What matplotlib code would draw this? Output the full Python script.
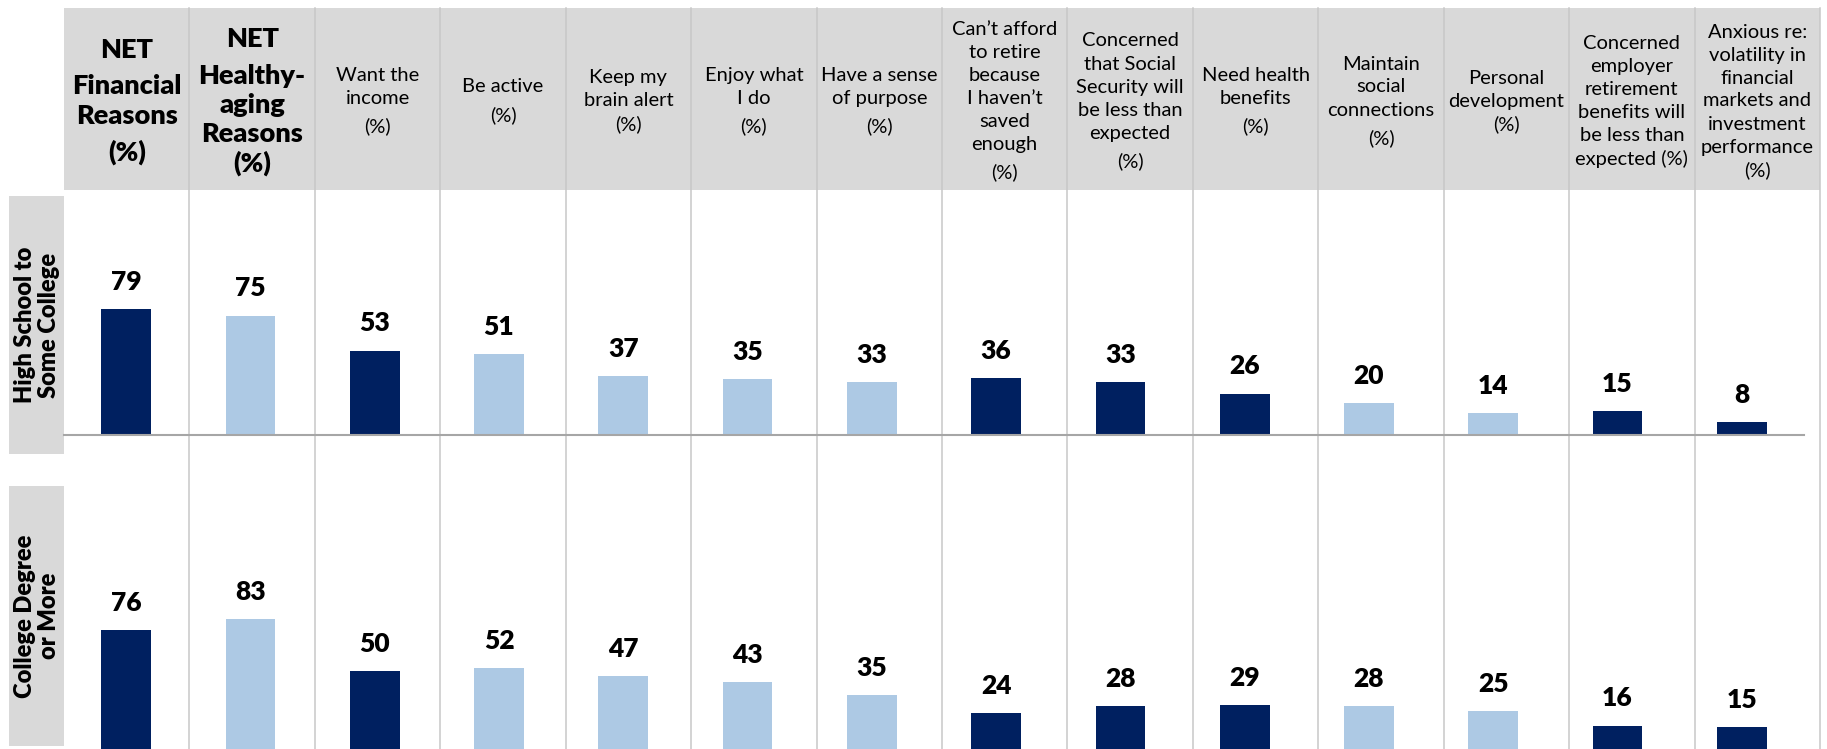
import numpy as np
import matplotlib.pyplot as plt
from matplotlib.patches import Rectangle

plt.rcParams['font.family'] = ['Lato', 'DejaVu Sans']

# Column headers ("\n\n" marks a paragraph break)
categories = [
    "NET\n\nFinancial\nReasons\n\n(%)",
    "NET\n\nHealthy-\naging\nReasons\n(%)",
    "Want the\nincome\n\n(%)",
    "Be active\n\n(%)",
    "Keep my\nbrain alert\n(%)",
    "Enjoy what\nI do\n\n(%)",
    "Have a sense\nof purpose\n\n(%)",
    "Can’t afford\nto retire\nbecause\nI haven’t\nsaved\nenough\n\n(%)",
    "Concerned\nthat Social\nSecurity will\nbe less than\nexpected\n\n(%)",
    "Need health\nbenefits\n\n(%)",
    "Maintain\nsocial\nconnections\n\n(%)",
    "Personal\ndevelopment\n(%)",
    "Concerned\nemployer\nretirement\nbenefits will\nbe less than\nexpected (%)",
    "Anxious re:\nvolatility in\nfinancial\nmarkets and\ninvestment\nperformance\n(%)",
]
net_header = [True, True] + [False] * 12
financial = [True, False, True, False, False, False, False,
             True, True, True, False, False, True, True]

groups = ["High School to\nSome College", "College Degree\nor More"]
hs_values = [79, 75, 53, 51, 37, 35, 33, 36, 33, 26, 20, 14, 15, 8]
college_values = [76, 83, 50, 52, 47, 43, 35, 24, 28, 29, 28, 25, 16, 15]

DARK = '#002060'
LIGHT = '#adc9e4'
GRAY = '#d9d9d9'
BOLD = 'heavy'

W, H = 1827, 749
fig = plt.figure(figsize=(W / 100, H / 100), dpi=100)

# background layer in pixel coordinates
bg = fig.add_axes([0, 0, 1, 1])
bg.set_xlim(0, W)
bg.set_ylim(H, 0)
bg.axis('off')

left, right = 64, 1820
col_w = (right - left) / len(categories)
bg.add_patch(Rectangle((left, 8), right - left, 182, color=GRAY, lw=0))
for k in range(1, len(categories) + 1):
    x = left + k * col_w
    bg.plot([x, x], [8, H], color='#c8c8c8', lw=1.1)


def draw_header(xc, label, bold):
    size = 19.5 if bold else 14.5
    step = 29 if bold else 23
    gap = 37 if bold else 28
    lines = []
    y = 0
    for i, para in enumerate(label.split('\n\n')):
        if i:
            y += gap - step
        for line in para.split('\n'):
            lines.append((line, y))
            y += step
    y0 = 101 - (y - step) / 2
    for line, yy in lines:
        bg.text(xc, y0 + yy, line, ha='center', va='center', fontsize=size,
                weight=BOLD if bold else 'normal')


for k, (lab, b) in enumerate(zip(categories, net_header)):
    draw_header(left + (k + 0.5) * col_w, lab, b)

# row labels
for (top, bottom), g in zip([(196, 454), (486, 746)], groups):
    bg.add_patch(Rectangle((9, top), 55, bottom - top, color=GRAY, lw=0))
    bg.text(37, (top + bottom) / 2, g, rotation=90, ha='center', va='center',
            fontsize=17, weight=BOLD, linespacing=1.1, multialignment='center')


def bar_row(values, baseline_px):
    ax = fig.add_axes([64 / W, (H - baseline_px) / H, 1740 / W, 239 / H])
    x = np.arange(len(values))
    colors = [DARK if f else LIGHT for f in financial]
    ax.bar(x, values, width=0.4, color=colors)
    ax.set_xlim(-0.5, len(values) - 0.5)
    ax.set_ylim(0, 150)
    ax.patch.set_visible(False)
    for s in ['top', 'right', 'left']:
        ax.spines[s].set_visible(False)
    ax.spines['bottom'].set_color('#a6a6a6')
    ax.spines['bottom'].set_linewidth(1.5)
    ax.set_xticks([])
    ax.set_yticks([])
    for xi, v in zip(x, values):
        ax.annotate(f'{v}', (xi, v), xytext=(0, 19.5), textcoords='offset points',
                    ha='center', va='center', fontsize=19, weight=BOLD)


bar_row(hs_values, 435)
bar_row(college_values, 751)

fig.savefig('out.png', dpi=100)
